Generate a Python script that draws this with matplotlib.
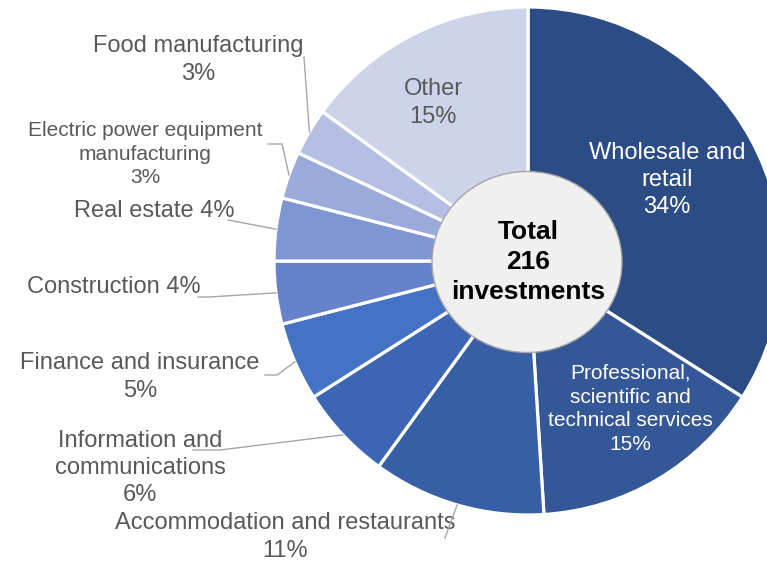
import numpy as np
import matplotlib.pyplot as plt
from matplotlib.patches import Ellipse

# data, clockwise from 12 o'clock
sectors = ['Wholesale and\nretail', 'Professional,\nscientific and\ntechnical services',
           'Accommodation and restaurants', 'Information and\ncommunications',
           'Finance and insurance', 'Construction', 'Real estate',
           'Electric power equipment\nmanufacturing', 'Food manufacturing', 'Other']
shares = [34, 15, 11, 6, 5, 4, 4, 3, 3, 15]
colors = ['#2c4c86', '#335797', '#375fa6', '#3c66b3', '#4472c4', '#6582ca',
          '#7f96d3', '#9aaadb', '#b4bfe3', '#cdd3e9']
total = 216

W, H = 767, 562
CX, CY, R = 528, 261, 254


def P(x, y):
    # pixel coords (y down) -> axes data coords (y up)
    return x, H - y


plt.rcParams['font.family'] = ['Liberation Sans', 'DejaVu Sans']
fig = plt.figure(figsize=(W / 100, H / 100), dpi=100)
ax = fig.add_axes([0, 0, 1, 1])

wedges, _ = ax.pie(shares, colors=colors, startangle=90, counterclock=False,
                   radius=R, center=P(CX, CY),
                   wedgeprops=dict(edgecolor='white', linewidth=2.3))
ax.set_xlim(0, W)
ax.set_ylim(0, H)
ax.set_aspect('equal')
ax.axis('off')

# centre disc
ax.add_patch(Ellipse(P(527, 262), 190, 181, facecolor='#f0f0f0',
                     edgecolor='#a6a6a6', linewidth=1.0, zorder=3))
ax.text(*P(528, 262), 'Total\n%d\ninvestments' % total, ha='center', va='center',
        fontsize=19, fontweight='bold', color='black', linespacing=1.32, zorder=4)

gray = '#595959'
line_c = '#a6a6a6'
LS = 1.32

# labels inside slices: index -> (x, y, color, size)
inside = {0: (667, 180, 'white', 17), 1: (630, 409, 'white', 15), 9: (433, 103, gray, 17)}
for i, (x, y, c, fs) in inside.items():
    ax.text(*P(x, y), '%s\n%d%%' % (sectors[i], shares[i]), ha='center', va='center',
            color=c, fontsize=fs, linespacing=LS, zorder=4)

# labels outside: index -> (text pos, text, fontsize, leader points before the slice edge)
outside = {
    8: ((198, 60), 'Food manufacturing\n3%', 17, [(304, 57)]),
    7: ((145, 154), 'Electric power equipment\nmanufacturing\n3%', 15, [(268, 144), (282, 144)]),
    6: ((154, 211), 'Real estate 4%', 17, [(228, 220)]),
    5: ((114, 287), 'Construction 4%', 17, [(198, 297), (209, 297)]),
    4: ((140, 377), 'Finance and insurance\n5%', 17, [(265, 375), (277, 375)]),
    3: ((140, 468), 'Information and\ncommunications\n6%', 17, [(193, 450), (220, 450)]),
    2: ((285, 537), 'Accommodation and restaurants\n11%', 17, [(445, 538)]),
}
cum = np.cumsum([0] + shares)
for i, (pos, txt, fs, pts) in outside.items():
    ax.text(*P(*pos), txt, ha='center', va='center', color=gray, fontsize=fs,
            linespacing=LS, zorder=4)
    mid = np.deg2rad(90 - 3.6 * (cum[i] + shares[i] / 2))
    ex, ey = CX + R * np.cos(mid), CY - R * np.sin(mid)
    xs = [p[0] for p in pts] + [ex]
    ys = [H - p[1] for p in pts] + [H - ey]
    ax.plot(xs, ys, color=line_c, linewidth=1.0, zorder=5)

fig.savefig('out.png', dpi=100)
